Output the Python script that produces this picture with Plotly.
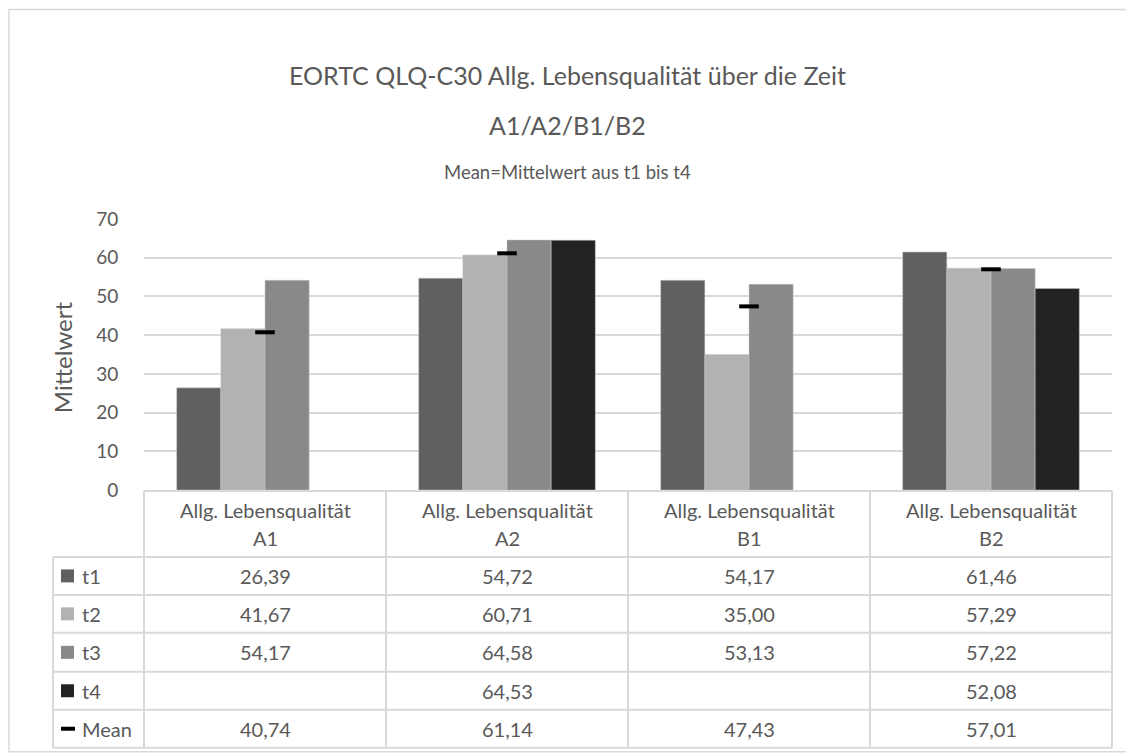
import plotly.graph_objects as go

categories = ["A1", "A2", "B1", "B2"]
header_prefix = "Allg. Lebensqualität"
series_names = ["t1", "t2", "t3", "t4"]
t1 = [26.39, 54.72, 54.17, 61.46]
t2 = [41.67, 60.71, 35.00, 57.29]
t3 = [54.17, 64.58, 53.13, 57.22]
t4 = [None, 64.53, None, 52.08]
mean = [40.74, 61.14, 47.43, 57.01]
y_ticks = [0, 10, 20, 30, 40, 50, 60, 70]

colors = ["#606060", "#b2b2b2", "#898989", "#222222"]
TXT = "#595959"
GRID = "#d9d9d9"
FONT = "Lato"

W, H = 1134, 756
OFF = 8  # page body margin offset
L, R = 144 - OFF, 1112 - OFF
TOP, BOT = 218.7 - OFF, 490.0 - OFF

def px(x):
    return (x - OFF - L) / (R - L)

def py(y):
    return (BOT - (y - OFF)) / (BOT - TOP)

fig = go.Figure()
for name, vals, col in zip(series_names, [t1, t2, t3, t4], colors):
    fig.add_trace(go.Bar(name=name, x=categories, y=vals,
                         marker=dict(color=col, line=dict(color="#c8c8c8", width=0.5)),
                         showlegend=False))
fig.add_trace(go.Scatter(name="Mean", x=categories, y=mean, mode="markers",
                         marker=dict(symbol="line-ew", size=14, color="black",
                                     line=dict(color="black", width=4)),
                         showlegend=False))

shapes = []
annotations = []

def hline(x0, x1, y):
    shapes.append(dict(type="line", xref="paper", yref="paper", x0=px(x0), x1=px(x1), y0=py(y), y1=py(y),
                       line=dict(color=GRID, width=2)))

def vline(x, y0, y1):
    shapes.append(dict(type="line", xref="paper", yref="paper", x0=px(x), x1=px(x), y0=py(y0), y1=py(y1),
                       line=dict(color=GRID, width=2)))

col_edges = [144, 386, 628, 870, 1112]
row_edges = [557, 595, 633, 672, 710, 748]
legend_left = 53

hline(144, 1112, 491)
for ry in row_edges:
    hline(legend_left, 1112, ry)
for cx in col_edges:
    vline(cx, 491, 748)
vline(legend_left, 557, 748)

def text(x, y, s, size=16, color=TXT, xanchor="center", angle=0):
    annotations.append(dict(xref="paper", yref="paper", x=px(x), y=py(y), text=s, showarrow=False,
                            xanchor=xanchor, yanchor="middle", textangle=angle,
                            font=dict(family=FONT, size=size, color=color)))

def fmt(v):
    return "" if v is None else f"{v:.2f}".replace(".", ",")

TS = 20
centers = [(col_edges[i] + col_edges[i + 1]) / 2 for i in range(4)]
for c, cat in zip(centers, categories):
    text(c, 510, header_prefix, size=TS)
    text(c, 538, cat, size=TS)

row_names = series_names + ["Mean"]
row_vals = [t1, t2, t3, t4, mean]
for i, (rn, vals) in enumerate(zip(row_names, row_vals)):
    yc = (row_edges[i] + row_edges[i + 1]) / 2
    for c, v in zip(centers, vals):
        text(c, yc, fmt(v), size=TS)
    text(80, yc, rn, size=TS, xanchor="left")
    if i < 4:
        shapes.append(dict(type="rect", xref="paper", yref="paper", x0=px(61), x1=px(74),
                           y0=py(yc + 6.5), y1=py(yc - 6.5), fillcolor=colors[i], line=dict(width=0)))
    else:
        shapes.append(dict(type="rect", xref="paper", yref="paper", x0=px(61), x1=px(75),
                           y0=py(yc + 2), y1=py(yc - 2), fillcolor="black", line=dict(width=0)))

text(567, 75, "EORTC QLQ-C30 Allg. Lebensqualität über die Zeit", size=25)
text(567, 125, "A1/A2/B1/B2", size=25)
text(567, 172, "Mean=Mittelwert aus t1 bis t4", size=18.5)
text(62, 357, "Mittelwert", size=24, angle=-90)

# outer border
shapes.append(dict(type="rect", xref="paper", yref="paper", x0=px(9), x1=px(1130), y0=py(9), y1=py(752),
                   line=dict(color=GRID, width=1.5), fillcolor="rgba(0,0,0,0)"))

fig.update_layout(
    width=W, height=H,
    margin=dict(l=L, r=W - R, t=TOP, b=H - BOT, autoexpand=False),
    paper_bgcolor="white", plot_bgcolor="white",
    barmode="group", bargap=0.27, bargroupgap=0,
    shapes=shapes, annotations=annotations,
    font=dict(family=FONT, color=TXT),
    xaxis=dict(showticklabels=False, showgrid=False, zeroline=False, showline=False, fixedrange=True),
    yaxis=dict(range=[0, 70], tickvals=y_ticks, showgrid=True, gridcolor=GRID, gridwidth=1.5,
               zeroline=False, showline=False, ticks="outside", ticklen=21, tickcolor="rgba(0,0,0,0)",
               tickfont=dict(family=FONT, size=19, color=TXT), fixedrange=True),
)

fig.write_html("out.html")
